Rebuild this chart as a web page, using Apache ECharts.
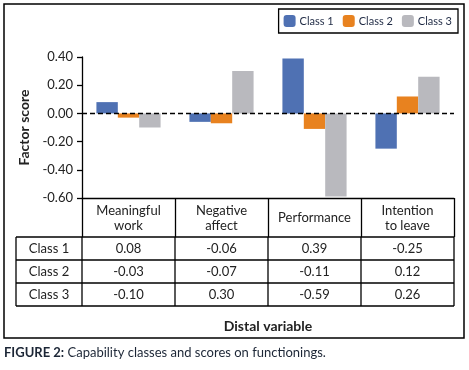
<!DOCTYPE html>
<html>
<head>
<meta charset="utf-8">
<script src="https://cdn.jsdelivr.net/npm/echarts@6/dist/echarts.min.js"></script>
<style>
  html, body { margin: 0; padding: 0; background: #fff; }
  #main { width: 469px; height: 370px; }
</style>
</head>
<body>
<div id="main"></div>
<script>
var categories = ['Meaningful\nwork', 'Negative\naffect', 'Performance', 'Intention\nto leave'];
var seriesNames = ['Class 1', 'Class 2', 'Class 3'];
var class1 = [0.08, -0.06, 0.39, -0.25];
var class2 = [-0.03, -0.07, -0.11, 0.12];
var class3 = [-0.10, 0.30, -0.59, 0.26];
var colors = ['#4f71b3', '#e8821f', '#b9b9be'];

var FONT = 'Lato';
var TXT = '#222';

var chart = echarts.init(document.getElementById('main'));

var values = [class1, class2, class3];
var series = values.map(function (d, i) {
    var s = {
        name: seriesNames[i],
        type: 'bar',
        data: d,
        barGap: '0%',
        barCategoryGap: '31%',
        itemStyle: { color: colors[i] }
    };
    if (i === 0) {
        // dashed zero line
        s.markLine = {
            silent: true,
            symbol: 'none',
            label: { show: false },
            lineStyle: { color: '#000', type: [5, 3], width: 1.3 },
            data: [{ yAxis: 0 }]
        };
    }
    return s;
});

var option = {
    animation: false,
    textStyle: { fontFamily: FONT },
    title: {
        left: 4,
        top: 346,
        padding: 0,
        text: '{b|FIGURE 2:} Capability classes and scores on functionings.',
        textStyle: {
            fontSize: 13, fontWeight: 'normal', color: '#1c2636', fontFamily: FONT,
            rich: { b: { fontSize: 13, fontWeight: 'bold', color: '#1c2636', fontFamily: FONT } }
        }
    },
    legend: {
        right: 11,
        top: 9,
        itemWidth: 12,
        itemHeight: 12,
        itemGap: 9,
        padding: [6, 6, 6, 5],
        borderColor: '#000',
        borderWidth: 1.3,
        textStyle: { fontSize: 11, color: '#1f2a44', fontFamily: FONT, padding: [0, 0, 0, -1] },
        data: seriesNames
    },
    grid: { left: 82, right: 15, top: 57, height: 141 },
    xAxis: {
        type: 'category',
        data: categories,
        position: 'bottom',
        axisLine: { onZero: false, lineStyle: { color: '#000', width: 1.3 } },
        axisTick: { show: true, length: 39, interval: 0, lineStyle: { color: '#000', width: 1.3 } },
        axisLabel: {
            interval: 0, margin: 20, verticalAlign: 'middle',
            fontSize: 13, lineHeight: 15, color: TXT, fontFamily: FONT
        },
        name: 'Distal variable',
        nameLocation: 'middle',
        nameGap: 121,
        nameTextStyle: { fontSize: 14, fontWeight: 'bold', color: TXT, fontFamily: FONT }
    },
    yAxis: {
        type: 'value',
        min: -0.6,
        max: 0.4,
        interval: 0.2,
        axisLine: { show: true, lineStyle: { color: '#000', width: 1.3 } },
        axisTick: { show: true, length: 5, lineStyle: { color: '#000', width: 1.3 } },
        splitLine: { show: false },
        axisLabel: {
            margin: 9, fontSize: 13, color: TXT, fontFamily: FONT,
            formatter: function (v) { return v.toFixed(2); }
        },
        name: 'Factor score',
        nameLocation: 'middle',
        nameRotate: 90,
        nameGap: 51,
        nameTextStyle: { fontSize: 14, fontWeight: 'bold', color: TXT, fontFamily: FONT }
    },
    series: series
};

chart.setOption(option);

// data table under the axis, laid out from the category scale
function drawTable() {
    var cx = categories.map(function (c, i) {
        return chart.convertToPixel({ xAxisIndex: 0 }, i);
    });
    var band = cx[1] - cx[0];
    var edges = [cx[0] - band / 2].concat(cx.map(function (x) { return x + band / 2; }));
    var yBottom = chart.convertToPixel({ yAxisIndex: 0 }, -0.6);
    var rowTop = yBottom + 39;
    var rowH = 23;
    var labelLeft = 16;
    var right = edges[edges.length - 1];
    var els = [];
    var ls = { stroke: '#000', lineWidth: 1.3 };

    // outer frame
    els.push({ type: 'rect', shape: { x: 4, y: 4, width: 460, height: 334 },
        style: { fill: 'none', stroke: '#000', lineWidth: 1.5 }, silent: true });

    for (var r = 0; r <= values.length; r++) {
        var y = rowTop + r * rowH;
        els.push({ type: 'line', shape: { x1: labelLeft, y1: y, x2: right, y2: y }, style: ls, silent: true });
    }
    var bottom = rowTop + values.length * rowH;
    [labelLeft].concat(edges).forEach(function (x) {
        els.push({ type: 'line', shape: { x1: x, y1: rowTop, x2: x, y2: bottom }, style: ls, silent: true });
    });

    values.forEach(function (d, r) {
        var yc = rowTop + r * rowH + rowH / 2;
        els.push({ type: 'text', x: (labelLeft + edges[0]) / 2, y: yc,
            style: { text: seriesNames[r], fontSize: 13, fontFamily: FONT, fill: TXT, align: 'center', verticalAlign: 'middle' } });
        d.forEach(function (v, i) {
            els.push({ type: 'text', x: cx[i], y: yc,
                style: { text: v.toFixed(2), fontSize: 13, fontFamily: FONT, fill: TXT, align: 'center', verticalAlign: 'middle' } });
        });
    });

    chart.setOption({ graphic: els });
}
drawTable();
</script>
</body>
</html>
